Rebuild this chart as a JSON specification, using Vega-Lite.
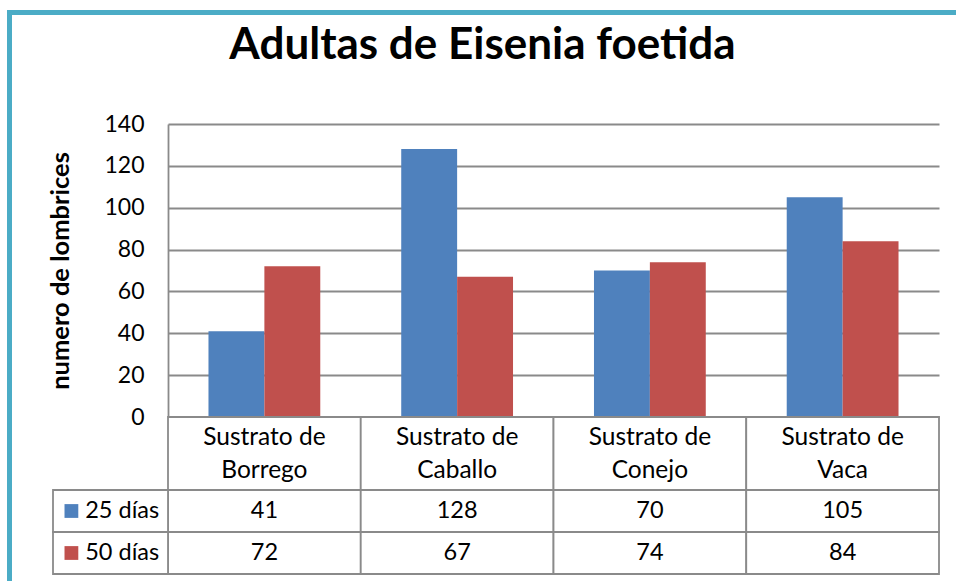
{
  "$schema": "https://vega.github.io/schema/vega-lite/v6.json",
  "width": 947,
  "height": 569,
  "autosize": {"type": "none"},
  "padding": {"left": 9, "top": 12, "right": 0, "bottom": 0},
  "background": "white",
  "config": {"view": {"stroke": null}, "font": "Lato"},
  "title": {"text": "Adultas de Eisenia foetida", "font": "Lato", "fontSize": 44, "fontWeight": "bold", "color": "#000000", "anchor": "middle", "frame": "group", "baseline": "alphabetic", "offset": -91},
  "datasets": {
    "d": [
      {"cat": "Sustrato de\nBorrego", "serie": "25 días", "value": 41},
      {"cat": "Sustrato de\nBorrego", "serie": "50 días", "value": 72},
      {"cat": "Sustrato de\nCaballo", "serie": "25 días", "value": 128},
      {"cat": "Sustrato de\nCaballo", "serie": "50 días", "value": 67},
      {"cat": "Sustrato de\nConejo", "serie": "25 días", "value": 70},
      {"cat": "Sustrato de\nConejo", "serie": "50 días", "value": 74},
      {"cat": "Sustrato de\nVaca", "serie": "25 días", "value": 105},
      {"cat": "Sustrato de\nVaca", "serie": "50 días", "value": 84}
    ],
    "cats": [
      {"cat": "Sustrato de\nBorrego"},
      {"cat": "Sustrato de\nCaballo"},
      {"cat": "Sustrato de\nConejo"},
      {"cat": "Sustrato de\nVaca"}
    ],
    "series": [
      {"serie": "25 días"},
      {"serie": "50 días"}
    ]
  },
  "layer": [
    {
      "data": {"name": "series"},
      "mark": {"type": "point", "opacity": 0},
      "encoding": {
        "x": {"datum": 0, "type": "quantitative", "scale": {"domain": [0, 1]},
              "axis": {"orient": "top", "domainColor": "#4BACC6", "domainWidth": 5, "domainCap": "square", "ticks": false, "labels": false, "grid": false, "title": null, "offset": 0}},
        "y": {"datum": 0, "type": "quantitative", "scale": {"domain": [0, 1]},
              "axis": {"orient": "left", "domainColor": "#4BACC6", "domainWidth": 5, "domainCap": "square", "ticks": false, "labels": false, "grid": false, "title": null, "offset": 0}}
      }
    },
    {
      "data": {"name": "d"},
      "mark": {"type": "bar"},
      "encoding": {
        "x": {"field": "cat", "type": "nominal", "sort": null, "scale": {"type": "band", "range": [159, 930], "paddingInner": 0.42, "paddingOuter": 0.21}, "axis": null},
        "xOffset": {"field": "serie", "type": "nominal", "scale": {"paddingInner": 0, "paddingOuter": 0}},
        "y": {"field": "value", "type": "quantitative", "scale": {"domain": [0, 140], "range": [405, 112], "nice": false},
              "axis": {"orient": "left", "offset": -159, "values": [0, 20, 40, 60, 80, 100, 120, 140], "grid": true, "gridColor": "#8A8A8A", "gridWidth": 1.8, "domain": true, "domainColor": "#8A8A8A", "domainWidth": 1.8, "ticks": false, "labelPadding": 24, "labelFont": "Lato", "labelFontSize": 23, "labelColor": "#000000", "labelFlush": false, "labelOverlap": false, "title": "numero de lombrices", "titleFont": "Lato", "titleFontSize": 25.5, "titleFontWeight": "bold", "titleColor": "#000000", "titlePadding": 30}},
        "color": {"field": "serie", "type": "nominal", "scale": {"domain": ["25 días", "50 días"], "range": ["#4F81BD", "#C0504D"]}, "legend": null}
      }
    },
    {
      "data": {"name": "cats"},
      "encoding": {
        "x": {"field": "cat", "type": "nominal", "sort": null, "scale": {"type": "band", "range": [159, 930], "paddingInner": 0, "paddingOuter": 0}, "axis": null},
        "y": {"datum": "h", "type": "nominal", "scale": {"type": "band", "range": [405, 478], "paddingInner": 0, "paddingOuter": 0}, "axis": null}
      },
      "layer": [
        {"mark": {"type": "rect", "fill": "white", "stroke": "#8A8A8A", "strokeWidth": 1.8}},
        {"mark": {"type": "text", "font": "Lato", "fontSize": 24.5, "lineBreak": "\n", "lineHeight": 33, "baseline": "middle", "color": "#000000"},
         "encoding": {"y": {"datum": "h", "type": "nominal", "bandPosition": 0.29},
                      "text": {"field": "cat", "type": "nominal"}}}
      ]
    },
    {
      "data": {"name": "d"},
      "encoding": {
        "x": {"field": "cat", "type": "nominal", "sort": null, "scale": {"type": "band", "range": [159, 930], "paddingInner": 0, "paddingOuter": 0}, "axis": null},
        "y": {"field": "serie", "type": "nominal", "sort": null, "scale": {"type": "band", "range": [478, 562], "paddingInner": 0, "paddingOuter": 0}, "axis": null}
      },
      "layer": [
        {"mark": {"type": "rect", "fill": "white", "stroke": "#8A8A8A", "strokeWidth": 1.8}},
        {"mark": {"type": "text", "font": "Lato", "fontSize": 23.5, "baseline": "middle", "color": "#000000"},
         "encoding": {"text": {"field": "value", "type": "quantitative"}}}
      ]
    },
    {
      "data": {"name": "series"},
      "encoding": {
        "x": {"datum": "lab", "type": "nominal", "scale": {"type": "band", "range": [44, 159], "paddingInner": 0, "paddingOuter": 0}, "axis": null},
        "y": {"field": "serie", "type": "nominal", "sort": null, "scale": {"type": "band", "range": [478, 562], "paddingInner": 0, "paddingOuter": 0}, "axis": null}
      },
      "layer": [
        {"mark": {"type": "rect", "fill": "white", "stroke": "#8A8A8A", "strokeWidth": 1.8}},
        {"mark": {"type": "point", "shape": "square", "filled": true, "size": 190, "opacity": 1},
         "encoding": {"x": {"datum": "lab", "type": "nominal", "bandPosition": 0.16},
                      "color": {"field": "serie", "type": "nominal", "legend": null}}},
        {"mark": {"type": "text", "font": "Lato", "fontSize": 23.5, "baseline": "middle", "align": "left", "color": "#000000"},
         "encoding": {"x": {"datum": "lab", "type": "nominal", "bandPosition": 0.28},
                      "text": {"field": "serie", "type": "nominal"}}}
      ]
    }
  ],
  "resolve": {"scale": {"x": "independent", "y": "independent"}, "axis": {"x": "independent", "y": "independent"}}
}
